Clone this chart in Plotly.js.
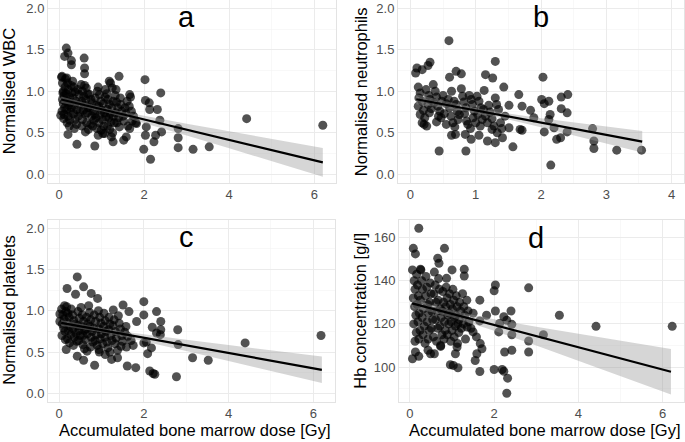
<!DOCTYPE html>
<html><head><meta charset="utf-8">
<script src="https://cdn.plot.ly/plotly-3.0.1.min.js"></script>
<style>html,body{margin:0;padding:0;background:#fff}#chart{width:685px;height:442px}</style>
</head><body><div id="chart"></div>
<script>
// ---------- Panel a: Normalised WBC ----------
const wbcDose = [
 0.17,0.21,0.13,0.29,0.29,0.59,0.60,0.60,1.41,1.18,
 2.02,2.39,2.03,2.12,2.31,2.13,2.37,2.41,2.27,2.05,
 2.03,2.23,1.99,2.15,2.80,2.80,2.80,3.15,3.53,4.41,
 6.20,0.42,0.84,0.21,0.04,0.07,1.66,1.82,1.66,1.58,
 1.52,1.27,1.23,0.92,1.07,0.62,
 0.06,0.08,0.10,0.12,0.08,0.10,0.13,0.07,0.12,0.15,0.14,0.09,0.15,0.11,
 0.18,0.20,0.22,0.17,0.25,0.20,0.23,0.18,0.27,0.21,0.25,0.19,0.28,0.30,0.26,0.29,0.24,
 0.32,0.35,0.38,0.33,0.40,0.36,0.42,0.34,0.45,0.38,0.47,0.44,0.48,0.41,0.49,0.36,
 0.52,0.55,0.58,0.53,0.60,0.57,0.62,0.55,0.65,0.60,0.67,0.63,0.68,0.66,0.54,0.69,0.64,
 0.72,0.75,0.78,0.73,0.80,0.77,0.82,0.74,0.85,0.88,0.84,0.87,0.90,0.79,0.89,
 0.92,0.95,0.98,0.93,1.00,0.97,1.02,0.94,1.05,1.08,1.04,1.07,1.10,0.99,1.09,1.03,
 1.12,1.15,1.18,1.13,1.20,1.17,1.22,1.14,1.25,1.27,1.24,1.28,1.30,1.19,1.26,1.21,
 1.32,1.35,1.38,1.33,1.40,1.36,1.42,1.45,1.48,1.50,1.55,1.58,1.60,1.44,1.52,1.34,
 1.65,1.70,1.68,1.75,1.72,1.80,1.62
];
const wbcValue = [
 1.52,1.46,1.42,1.37,1.32,1.40,1.28,1.21,1.18,1.12,
 1.14,0.98,0.89,0.86,0.78,0.78,0.65,0.51,0.47,0.57,
 0.47,0.39,0.30,0.18,0.55,0.44,0.32,0.30,0.33,0.67,
 0.59,0.36,0.34,0.48,0.71,1.18,0.96,0.61,0.55,0.45,
 0.41,0.39,0.45,0.47,0.49,0.51,
 1.17,1.10,1.00,0.95,0.90,0.85,0.80,0.76,0.72,1.15,1.05,0.98,0.88,0.67,
 1.16,1.10,1.02,0.97,0.93,0.88,0.83,0.78,0.75,0.70,0.65,0.62,1.07,0.98,0.86,0.80,0.58,
 1.12,1.05,0.99,0.92,0.88,0.83,0.78,0.73,0.70,0.66,0.96,1.02,0.85,0.60,0.75,0.55,
 1.08,1.00,0.94,0.88,0.83,0.77,0.72,0.66,0.62,1.07,0.97,0.90,0.80,0.74,0.58,0.54,1.04,
 0.96,0.90,0.86,0.80,0.76,0.70,0.65,0.60,0.92,0.83,0.72,0.68,1.00,0.58,0.55,
 1.05,0.96,0.88,0.82,0.77,0.72,0.66,0.62,0.58,0.93,0.85,0.74,0.69,0.53,1.02,0.49,
 0.97,0.90,0.84,0.78,0.73,0.68,0.63,0.58,1.04,0.88,0.80,0.70,0.62,0.54,0.50,1.10,
 0.95,0.87,0.80,0.74,0.68,0.62,0.57,0.84,0.76,0.70,0.80,0.73,0.88,0.92,0.64,1.02,
 0.82,0.76,0.93,0.70,0.64,0.62,0.58
];
const wbcFitDose = [0.05,0.5,1,1.5,2,3,4,5,6.2];
const wbcFit     = [0.900,0.845,0.783,0.722,0.660,0.537,0.414,0.291,0.143];
const wbcFitLow  = [0.862,0.816,0.758,0.691,0.618,0.466,0.312,0.157,-0.030];
const wbcFitHigh = [0.938,0.874,0.808,0.753,0.702,0.608,0.517,0.425,0.316];

// ---------- Panel b: Normalised neutrophils ----------
const neuDose = [
 0.59,0.08,0.10,0.18,0.30,0.27,0.60,0.70,0.78,1.15,
 1.26,1.30,1.13,1.43,2.03,2.01,2.12,2.05,2.31,2.41,
 2.40,2.31,2.14,2.12,2.20,2.05,2.30,2.24,2.40,2.15,
 2.79,2.81,2.81,3.16,3.54,0.44,0.85,1.57,1.68,1.71,
 1.51,1.84,1.89,1.71,1.66,1.51,0.93,0.84,0.69,0.63,
 1.18,1.30,1.41,1.33,1.25,1.05,
 0.12,0.15,0.13,0.18,0.12,0.20,0.15,0.22,0.18,0.25,
 0.24,0.28,0.30,0.27,0.32,0.29,0.35,0.38,0.40,0.36,
 0.42,0.45,0.43,0.47,0.50,0.48,0.55,0.52,0.58,0.60,
 0.62,0.65,0.67,0.70,0.72,0.68,0.75,0.73,0.78,0.80,
 0.82,0.85,0.83,0.88,0.90,0.93,0.95,0.98,0.96,1.00,
 1.02,1.05,1.08,1.03,1.10,1.07,1.12,1.15,1.18,1.20,
 1.22,1.25,1.28,1.30,1.32,1.35,1.38,1.40,0.55,0.63,
 0.40,0.21,0.92,1.45,0.86
];
const neuValue = [
 1.61,1.22,1.28,1.26,1.35,1.31,1.17,1.24,1.21,1.20,
 1.16,1.36,1.01,1.05,1.17,0.90,0.88,0.85,0.93,0.96,
 0.74,0.79,0.72,0.66,0.56,0.51,0.44,0.42,0.51,0.11,
 0.55,0.40,0.31,0.29,0.29,0.28,0.28,0.33,0.54,0.53,
 0.56,0.77,0.68,0.82,0.96,0.83,0.42,0.48,0.48,0.47,
 0.40,0.38,0.44,0.50,0.54,0.47,
 1.05,0.98,0.92,0.88,0.82,0.77,0.72,0.68,0.62,0.58,
 1.02,0.95,0.90,0.84,0.79,0.74,1.08,1.00,0.93,0.86,
 0.82,0.76,0.70,0.68,0.95,0.88,0.85,0.73,0.90,0.80,
 0.70,0.62,0.88,0.84,0.76,0.57,0.72,0.66,1.03,0.94,
 0.87,0.80,0.73,0.60,0.95,0.90,0.84,0.76,0.68,0.62,
 0.94,0.88,0.80,0.72,0.66,0.58,0.78,0.70,0.62,0.83,
 0.75,0.67,0.58,0.92,0.84,0.78,0.62,0.55,0.60,1.00,
 0.63,0.60,0.55,0.70,0.64
];
const neuFitDose = [0.09,0.5,1.1,1.5,2,2.5,3,3.55];
const neuFit     = [0.904,0.843,0.754,0.695,0.621,0.547,0.473,0.392];
const neuFitLow  = [0.844,0.800,0.724,0.659,0.566,0.469,0.371,0.262];
const neuFitHigh = [0.964,0.886,0.784,0.731,0.676,0.625,0.575,0.522];

// ---------- Panel c: Normalised platelets ----------
const pltDose = [
 0.43,0.19,0.58,0.39,0.76,0.91,2.00,2.30,2.00,2.40,
 2.20,2.40,2.30,2.39,2.80,2.81,2.06,2.00,2.18,2.09,
 2.14,2.26,2.22,2.77,3.15,3.52,4.39,6.18,1.61,1.81,
 0.84,0.43,0.58,0.17,0.02,0.02,1.51,1.65,1.83,1.59,
 1.38,1.24,1.09,0.66,0.94,
 0.06,0.09,0.12,0.08,0.11,0.14,0.07,0.13,0.16,0.15,
 0.18,0.21,0.24,0.19,0.26,0.22,0.28,0.20,0.25,0.29,
 0.32,0.35,0.38,0.33,0.40,0.36,0.42,0.34,0.45,0.48,
 0.44,0.47,0.50,0.46,0.52,0.55,0.58,0.53,0.60,0.57,
 0.62,0.56,0.65,0.68,0.64,0.67,0.70,0.72,0.75,0.73,
 0.78,0.76,0.80,0.74,0.83,0.86,0.82,0.88,0.85,0.90,
 0.93,0.96,0.99,0.94,1.00,0.97,1.03,1.06,1.09,1.05,
 1.10,1.08,1.13,1.15,1.18,1.20,1.17,1.22,1.25,1.28,
 1.30,1.27,1.33,1.35,1.32,1.38,1.42,1.45,1.40,1.48,
 1.50,1.55,1.58,1.62,1.70,1.75,1.46,1.20,0.95,0.60
];
const pltValue = [
 1.41,1.27,1.29,1.20,1.21,1.15,1.11,0.99,0.95,0.87,
 0.80,0.77,0.73,0.71,0.77,0.59,0.62,0.61,0.55,0.48,
 0.27,0.23,0.24,0.20,0.43,0.40,0.61,0.70,0.33,0.31,
 0.34,0.45,0.40,0.53,0.87,0.96,1.07,0.99,0.87,0.56,
 0.43,0.41,0.47,0.51,0.53,
 1.02,0.95,0.90,0.84,0.79,0.75,0.70,1.06,0.99,0.65,
 1.05,0.97,0.92,0.86,0.81,0.76,0.71,0.66,0.61,1.02,
 0.95,0.88,0.84,0.78,0.73,0.68,0.63,0.58,0.99,0.91,
 0.82,0.76,0.70,0.64,1.04,0.95,0.87,0.81,0.76,0.70,
 0.65,0.59,0.92,0.84,0.78,0.72,1.06,0.98,0.89,0.81,
 0.75,0.68,0.62,0.56,0.95,0.87,0.79,0.71,0.64,0.58,
 1.00,0.92,0.85,0.78,0.72,0.66,0.60,0.97,0.88,0.81,
 0.75,0.68,0.62,0.55,0.92,0.84,0.77,0.70,0.64,1.01,
 0.89,0.82,0.75,0.67,0.60,0.52,0.85,0.78,0.94,0.70,
 0.63,0.74,0.81,0.69,0.64,0.58,0.57,0.50,0.50,0.54
];
const pltFitDose = [0.05,0.5,1,1.5,2,3,4,5,6.2];
const pltFit     = [0.853,0.812,0.765,0.719,0.673,0.580,0.488,0.395,0.284];
const pltFitLow  = [0.817,0.784,0.740,0.688,0.632,0.512,0.392,0.270,0.124];
const pltFitHigh = [0.889,0.840,0.790,0.750,0.714,0.648,0.584,0.520,0.444];

// ---------- Panel d: Hb concentration ----------
const hbDose = [
 0.21,0.08,0.13,0.82,0.66,0.69,0.06,0.25,1.00,1.29,
 1.29,0.87,2.03,2.00,2.82,1.66,1.82,2.03,2.40,2.23,
 2.13,2.42,2.30,2.11,2.42,2.25,2.42,2.82,2.82,3.17,
 3.55,4.42,6.23,2.00,2.19,2.23,2.32,2.30,1.66,0.96,
 1.03,1.14,0.06,0.21,0.13,0.49,0.58,0.43,0.73,1.08,
 1.12,1.55,1.59,1.71,1.67,1.58,1.50,1.36,1.66,
 0.10,0.12,0.08,0.11,0.14,0.09,0.15,0.12,0.16,0.18,
 0.20,0.17,0.22,0.19,0.24,0.21,0.26,0.28,0.30,0.25,
 0.32,0.29,0.34,0.31,0.36,0.38,0.40,0.37,0.42,0.44,
 0.41,0.46,0.43,0.48,0.50,0.47,0.52,0.54,0.51,0.56,
 0.58,0.60,0.57,0.62,0.64,0.61,0.66,0.63,0.68,0.70,
 0.67,0.72,0.74,0.71,0.76,0.73,0.78,0.80,0.77,0.82,
 0.84,0.81,0.86,0.88,0.85,0.90,0.92,0.89,0.94,0.96,
 0.93,0.98,1.00,0.97,1.02,1.04,1.01,1.06,1.08,1.05,
 1.10,1.12,1.09,1.14,1.16,1.13,1.18,1.20,1.17,1.22,
 1.25,1.28,1.30,1.27,1.32,1.35,1.38,1.40,1.45,1.50
];
const hbValue = [
 164.3,155.0,152.4,155.0,150.4,148.1,145.0,145.3,145.0,145.3,
 142.2,141.1,138.0,135.3,136.7,131.0,124.0,126.0,126.0,123.3,
 120.2,119.8,121.7,116.3,115.0,107.0,107.8,112.1,107.0,115.0,
 124.0,118.9,118.9,98.9,98.9,98.1,94.9,87.9,98.0,101.1,
 100.8,99.7,103.9,105.0,107.0,106.2,106.2,107.8,109.6,106.2,
 109.3,103.1,106.2,108.5,110.9,114.0,116.3,118.6,121.4,
 140,136,132,128,124,120,116,112,143,138,
 133,129,125,121,117,113,145,140,136,131,
 127,123,119,115,111,142,137,133,129,125,
 121,117,113,139,134,130,126,122,118,114,
 144,138,134,130,126,122,118,112,141,136,
 131,127,123,119,115,110,135,130,126,121,
 117,113,137,132,128,124,120,115,134,129,
 125,121,117,112,136,131,127,123,119,114,
 133,128,124,120,116,111,130,126,122,118,
 134,128,124,120,113,131,126,121,118,125
];
const hbFitDose = [0.05,0.5,1,1.5,2,3,4,5,6.2];
const hbFit     = [129.54,127.23,124.65,122.08,119.50,114.35,109.20,104.05,97.87];
const hbFitLow  = [127.30,125.54,123.14,120.17,116.87,109.97,102.94,95.87,87.37];
const hbFitHigh = [131.78,128.92,126.16,123.99,122.13,118.73,115.46,112.23,108.37];

// ---------- Text ----------
const panelLetters = ['a','b','c','d'];
const yTitles = ['Normalised WBC','Normalised neutrophils','Normalised platelets','Hb concentration [g/l]'];
const xTitle = 'Accumulated bone marrow dose [Gy]';

const W = 685, H = 442;
const FONT = 'Liberation Sans, Arial, Helvetica, sans-serif';

const panels = [
  {ax:'', xs:wbcDose, ys:wbcValue, fx:wbcFitDose, fy:wbcFit, lo:wbcFitLow, hi:wbcFitHigh,
   xpx:[48,336], ypx:[0,182.5], xr:[-0.26,6.51], yr:[-0.1,2.1], xdt:2, xm:1, ydt:0.5, ym:0.25, yfmt:'.1f',
   letterPos:[3,1.9], ytx:9, xt:false},
  {ax:'2', xs:neuDose, ys:neuValue, fx:neuFitDose, fy:neuFit, lo:neuFitLow, hi:neuFitHigh,
   xpx:[398,684], ypx:[0,182.5], xr:[-0.19,4.19], yr:[-0.1,2.1], xdt:1, xm:0.5, ydt:0.5, ym:0.25, yfmt:'.1f',
   letterPos:[2,1.9], ytx:361, xt:false},
  {ax:'3', xs:pltDose, ys:pltValue, fx:pltFitDose, fy:pltFit, lo:pltFitLow, hi:pltFitHigh,
   xpx:[48,335], ypx:[220,401.5], xr:[-0.26,6.51], yr:[-0.1,2.1], xdt:2, xm:1, ydt:0.5, ym:0.25, yfmt:'.1f',
   letterPos:[3,1.9], ytx:9, xt:true},
  {ax:'4', xs:hbDose, ys:hbValue, fx:hbFitDose, fy:hbFit, lo:hbFitLow, hi:hbFitHigh,
   xpx:[399,684], ypx:[220,401.5], xr:[-0.26,6.51], yr:[84.1,168.1], xdt:2, xm:1, ydt:20, ym:10, yfmt:'',
   letterPos:[3,160], ytx:360, xt:true}
];

const traces = [];
const layout = {
  width:W, height:H, margin:{l:0,r:0,t:0,b:0},
  paper_bgcolor:'#fff', plot_bgcolor:'#fff', showlegend:false,
  font:{family:FONT, color:'#000'},
  annotations:[]
};

panels.forEach((p,i)=>{
  const xa = 'x'+p.ax, ya = 'y'+p.ax;
  traces.push({type:'scatter', mode:'markers', x:p.xs, y:p.ys, xaxis:xa, yaxis:ya,
    marker:{color:'#000', opacity:0.68, size:9, line:{width:0}}, hoverinfo:'skip', cliponaxis:true});
  traces.push({type:'scatter', mode:'lines', x:p.fx, y:p.lo, xaxis:xa, yaxis:ya,
    line:{width:0, color:'rgba(0,0,0,0)'}, hoverinfo:'skip'});
  traces.push({type:'scatter', mode:'lines', x:p.fx, y:p.hi, xaxis:xa, yaxis:ya, fill:'tonexty',
    fillcolor:'rgba(153,153,153,0.4)', line:{width:0, color:'rgba(0,0,0,0)'}, hoverinfo:'skip'});
  traces.push({type:'scatter', mode:'lines', x:p.fx, y:p.fy, xaxis:xa, yaxis:ya,
    line:{width:2.2, color:'#000'}, hoverinfo:'skip'});

  const common = {showline:true, mirror:true, linecolor:'#e3e3e3', linewidth:1,
    showgrid:true, gridcolor:'#ebebeb', gridwidth:1, zeroline:false, ticks:'',
    tickfont:{family:FONT, size:13, color:'#4d4d4d'}, tick0:0, fixedrange:true};
  layout['xaxis'+p.ax] = Object.assign({}, common, {
    domain:[p.xpx[0]/W, p.xpx[1]/W], range:p.xr, dtick:p.xdt, anchor:ya,
    minor:{dtick:p.xm, showgrid:true, gridcolor:'#f4f4f4', gridwidth:0.6, ticks:''}
  });
  layout['yaxis'+p.ax] = Object.assign({}, common, {
    domain:[1-p.ypx[1]/H, 1-p.ypx[0]/H], range:p.yr, dtick:p.ydt, anchor:xa, tickformat:p.yfmt,
    minor:{dtick:p.ym, showgrid:true, gridcolor:'#f4f4f4', gridwidth:0.6, ticks:''}
  });

  layout.annotations.push({xref:xa, yref:ya, x:p.letterPos[0], y:p.letterPos[1], text:panelLetters[i],
    showarrow:false, font:{family:FONT, size:29, color:'#000'}, xanchor:'center', yanchor:'middle'});
  layout.annotations.push({xref:'paper', yref:'paper', x:p.ytx/W, y:1-((p.ypx[0]+p.ypx[1])/2)/H,
    text:yTitles[i], textangle:-90, showarrow:false, font:{family:FONT, size:16.5, color:'#000'},
    xanchor:'center', yanchor:'middle'});
  if (p.xt) {
    layout.annotations.push({xref:'paper', yref:'paper', x:((p.xpx[0]+p.xpx[1])/2+3)/W, y:0,
      text:xTitle, showarrow:false, font:{family:FONT, size:16.5, color:'#000'},
      xanchor:'center', yanchor:'bottom', yshift:2, borderpad:0});
  }
});

Plotly.newPlot('chart', traces, layout, {staticPlot:true, displayModeBar:false});
</script>
</body></html>
